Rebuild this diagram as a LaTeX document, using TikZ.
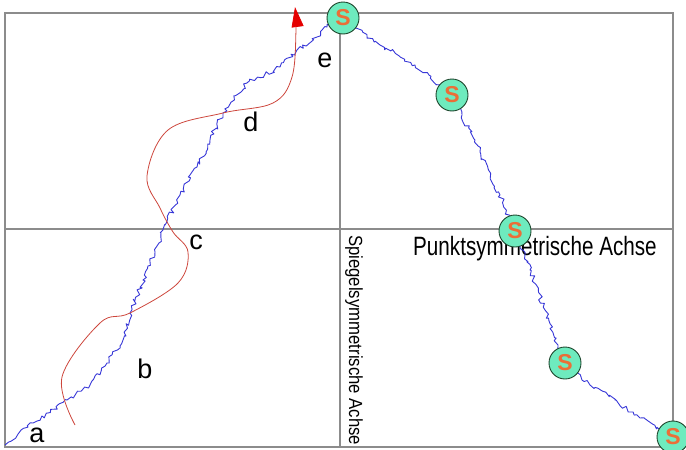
\documentclass[tikz,border=0pt]{standalone}
\usepackage{fontspec}
\setmainfont{Liberation Sans}
\newfontfamily\hfont[FakeStretch=0.78]{Liberation Sans}
\newfontfamily\vfont[FakeStretch=0.88]{Liberation Sans}
\usetikzlibrary{decorations.pathmorphing,arrows.meta}
\definecolor{axisgray}{RGB}{140,140,140}
\definecolor{curveblue}{RGB}{55,55,215}
\definecolor{curvered}{RGB}{205,70,60}
\definecolor{sfill}{RGB}{110,235,190}
\definecolor{sedge}{RGB}{30,70,45}
\definecolor{sletter}{RGB}{235,110,55}
\tikzset{
  axisline/.style={draw=axisgray,line width=1.5pt},
  blueline/.style={draw=curveblue,line width=0.9pt,line join=round,decorate,
    decoration={random steps,segment length=3pt,amplitude=2.4pt}},
  redline/.style={draw=curvered,line width=0.8pt},
  scircle/.style={circle,draw=sedge,line width=0.9pt,fill=sfill,minimum size=32pt,
    inner sep=0pt,text=sletter,font=\fontsize{23}{23}\selectfont\bfseries},
  lbl/.style={anchor=base,inner sep=0pt,font=\fontsize{27}{27}\selectfont},
}
\begin{document}
\begin{tikzpicture}[x=1pt,y=-1pt]
\useasboundingbox (0,0) rectangle (686,450);
\pgfmathsetseed{11}
% frame and axes
\draw[axisline] (5,13) rectangle (673,447);
\draw[axisline] (5,229) -- (673,229);
\draw[axisline] (340,13) -- (340,447);
% axis labels
\node[anchor=base west,inner sep=0pt,font=\hfont\fontsize{26.5}{28}\selectfont] (pa) at (413,255) {Punktsymmetrische Achse};
\node[anchor=base west,inner sep=0pt,rotate=-90,font=\vfont\fontsize{19}{21}\selectfont] (sa) at (349,235) {Spiegelsymmetrische Achse};
% blue curve
\draw[blueline] (5,445) -- (33,423) -- (67,400) -- (90,385) -- (107,363) -- (123,340) -- (130,313) -- (143,280) -- (155,252) -- (165,225) -- (180,195) -- (197,167) -- (210,140) -- (223,113) -- (247,83) -- (280,67) -- (297,50) -- (317,37) -- (327,27) -- (343,18);
\draw[blueline] (343,18) -- (380,45) -- (415,65) -- (440,85) -- (452,95) -- (462,115) -- (480,152) -- (500,195) -- (515,232) -- (530,270) -- (545,310) -- (558,345) -- (565,363) -- (590,385) -- (615,400) -- (640,418) -- (660,430) -- (673,437);
% red curve
\draw[redline,-{Triangle[length=20pt,width=12pt,color=red!90!black]}] plot[smooth,tension=0.6] coordinates {(75,425) (62,377) (100,323) (130,313) (178,283) (188,252) (173,232) (160,208) (147,176) (168,130) (223,113) (273,103) (292,77) (296,30) (295,7)};
% S circles
\node[scircle] (s1) at (343,18) {S};
\node[scircle] (s2) at (452,95) {S};
\node[scircle] (s3) at (515,231) {S};
\node[scircle] (s4) at (565,363) {S};
\node[scircle] (s5) at (673,437) {S};
% point labels
\node[lbl] (la) at (37,442) {a};
\node[lbl] (lb) at (145,378) {b};
\node[lbl] (lc) at (196,249) {c};
\node[lbl] (ld) at (251,131) {d};
\node[lbl] (le) at (325,67) {e};
\end{tikzpicture}
\end{document}
